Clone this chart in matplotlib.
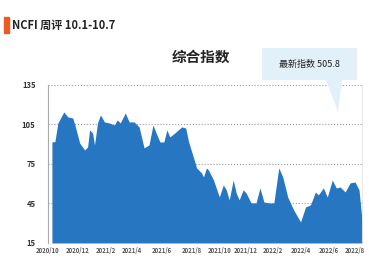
import numpy as np
import matplotlib
matplotlib.use("Agg")
import matplotlib.pyplot as plt
from matplotlib.patches import Polygon, Rectangle

plt.rcParams['font.family'] = ['Noto Sans CJK SC', 'DejaVu Sans']

# data (period index, index value)
period = [0, 3, 6, 12, 16, 21, 24, 28, 33, 36, 38, 41, 43, 46, 49, 53, 58, 63, 66, 69,
          74, 78, 83, 88, 93, 98, 102, 106, 109, 113, 116, 119, 124, 131, 135, 138, 143,
          146, 151, 153, 156, 158, 163, 169, 173, 176, 179, 183, 186, 189, 193, 196, 201,
          206, 210, 214, 219, 224, 229, 233, 238, 244, 251, 256, 261, 266, 269, 274, 278,
          283, 287, 291, 296, 301, 306, 310, 313]
value = [91.7, 92.0, 106.1, 114.5, 110.7, 109.9, 102.3, 90.9, 85.6, 87.9, 100.8, 98.5,
         89.4, 106.1, 112.2, 106.9, 106.1, 104.6, 108.4, 106.1, 113.7, 106.9, 106.9, 103.1,
         87.2, 89.4, 104.6, 97.0, 91.7, 91.7, 100.8, 95.5, 98.5, 103.1, 102.3, 91.7, 79.6,
         72.0, 68.2, 65.1, 72.0, 70.4, 63.0, 50.0, 59.0, 55.3, 47.7, 62.8, 53.0, 47.7,
         55.3, 53.0, 45.4, 45.4, 56.8, 46.1, 45.4, 45.4, 72.0, 65.1, 49.9, 40.1, 31.0,
         42.3, 43.9, 53.7, 51.5, 56.8, 49.9, 62.8, 56.8, 57.5, 53.7, 60.6, 61.3, 55.3, 32.5]

y_ticks = [15, 45, 75, 105, 135]
x_tick_pos = [-4, 26, 54, 81, 111, 141, 169, 196, 223, 251, 279, 306]
x_tick_labels = ['2020/10', '2020/12', '2021/2', '2021/4', '2021/6', '2021/8',
                 '2021/10', '2021/12', '2022/2', '2022/4', '2022/6', '2022/8']

latest = 505.8

fig = plt.figure(figsize=(3.69, 2.67), dpi=100)
ax = fig.add_axes([0.130, 0.090, 0.851, 0.592])

ax.fill_between(period, value, 15, color='#2676c2', lw=0, zorder=2)
ax.set_xlim(0, 313)
ax.set_ylim(15, 135)
ax.set_yticks(y_ticks)
ax.set_yticklabels([str(t) for t in y_ticks], fontsize=5.5, fontweight='bold', color='#333333')
ax.set_xticks(x_tick_pos)
ax.set_xticklabels(x_tick_labels, fontsize=4.3, fontweight='bold', color='#555555')
ax.tick_params(axis='y', length=0, pad=9)
ax.tick_params(axis='x', length=0, pad=3)
ax.grid(axis='y', color='#999999', linestyle=':', linewidth=0.8, zorder=1)

for s in ['top', 'bottom']:
    ax.spines[s].set_visible(False)
ax.spines['left'].set_color('#aaaaaa')
ax.spines['left'].set_linewidth(0.8)
ax.spines['right'].set_color('#e4e4e4')
ax.spines['right'].set_linewidth(0.6)

# header
fig.patches.append(Rectangle((4/369, 1-33/267), 5/369, 16/267, transform=fig.transFigure,
                             color='#f05a22', zorder=5))
fig.text(12/369, 1-25/267, 'NCFI 周评 10.1-10.7', fontsize=8, fontweight='bold',
         va='center', ha='left', color='#222222')

# title
fig.text(201/369, 1-57/267, '综合指数', fontsize=10.5, fontweight='bold',
         va='center', ha='center', color='#222222')

# callout box
pts = [(262, 48), (357, 48), (357, 80), (342, 80), (338, 112), (326, 80), (262, 80)]
pts = [(x/369, 1-y/267) for x, y in pts]
fig.patches.append(Polygon(pts, closed=True, transform=fig.transFigure,
                           facecolor='#e2f0f9', edgecolor='none', zorder=5))
fig.text(309/369, 1-64/267, '最新指数 %.1f' % latest, fontsize=6.5,
         va='center', ha='center', color='#222222', zorder=6)

plt.savefig('out.png', dpi=100)
